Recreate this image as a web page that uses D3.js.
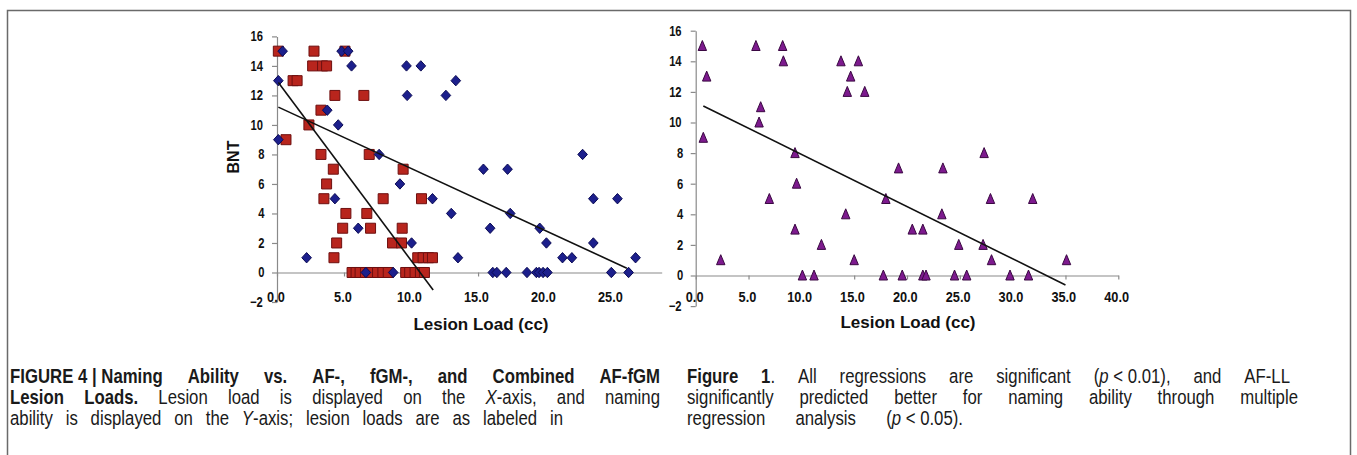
<!DOCTYPE html>
<html><head><meta charset="utf-8">
<script src="https://cdn.jsdelivr.net/npm/d3@7"></script>
<style>body{margin:0;background:#fff} svg{display:block}</style>
</head><body>
<svg id="c" width="1357" height="455"></svg>
<script>
// ---------- DATA ----------
// Left panel: fGM lesion load (red squares)
const fgmX = [0.1,2.76,5.07, 2.66,3.4,3.7, 1.2,1.5, 4.32,6.48, 3.28, 2.38, 0.67, 3.28,6.88, 4.2,9.41, 3.7,
  3.5,7.92,10.78, 5.14,6.7, 4.9,6.98,9.34, 4.45,8.62,9.29, 4.25,10.5,10.9,11.3,11.6,
  5.6,5.9,6.2,6.6,7.0,7.5,7.9,8.3,9.6,9.9,10.3,10.7,11.0];
const fgmY = [15,15,15, 14,14,14, 13,13, 12,12, 11, 10, 9, 8,8, 7,7, 6,
  5,5,5, 4,4, 3,3,3, 2,2,2, 1,1,1,1,1,
  0,0,0,0,0,0,0,0,0,0,0,0,0];
// Left panel: AF lesion load (blue diamonds)
const afX = [0.42,4.82,5.31, 5.56,9.66,10.73, 0.1,13.34, 9.71,12.6, 3.75, 4.57, 0.1, 7.62,22.8, 15.4,17.2, 9.17,
  4.32,11.6,23.6,25.4, 13.0,17.4, 6.06,15.9,19.6, 10.04,20.1,23.6, 2.21,13.5,21.3,22.0,26.75,
  6.63,8.67,16.1,16.4,17.1,18.65,19.35,19.55,19.85,20.17,24.94,26.23];
const afY = [15,15,15, 14,14,14, 13,13, 12,12, 11, 10, 9, 8,8, 7,7, 6,
  5,5,5,5, 4,4, 3,3,3, 2,2,2, 1,1,1,1,1,
  0,0,0,0,0,0,0,0,0,0,0,0];
// Right panel: combined AF-fGM lesion load (purple triangles)
const combX = [0.63,5.7,8.23, 8.3,13.75,15.4, 1.04,14.67, 14.35,16.0, 6.15, 6.0, 0.72, 9.4,27.3, 19.2,23.4, 9.55,
  6.97,18.0,27.9,31.9, 14.2,23.3, 9.4,20.5,21.5, 11.9,24.9,27.2, 2.37,15.0,28.0,35.1,
  10.1,11.2,17.76,19.55,21.5,21.8,24.5,25.65,29.75,31.5];
const combY = [15,15,15, 14,14,14, 13,13, 12,12, 11, 10, 9, 8,8, 7,7, 6,
  5,5,5,5, 4,4, 3,3,3, 2,2,2, 1,1,1,1,
  0,0,0,0,0,0,0,0,0,0];
// Regression lines: [intercept, slope, xStart, xEnd]
const fgmFit  = [13.0, -1.218, 0.1, 11.65];
const afFit   = [11.25, -0.42, 0.1, 26.1];
const combFit = [11.33, -0.3413, 0.72, 35.0];
// Tick labels
const yTicks = [-2,0,2,4,6,8,10,12,14,16];
const xTicksLeft = [0,5,10,15,20,25];
const xTicksRight = [0,5,10,15,20,25,30,35,40];
const yTitle = "BNT";
const xTitle = "Lesion Load (cc)";
const captionLeft = [
  "**FIGURE\u00a04\u00a0|\u00a0Naming Ability vs. AF-, fGM-, and Combined AF-fGM**",
  "**Lesion Loads.** Lesion load is displayed on the _X_-axis, and naming",
  "ability is displayed on the _Y_-axis; lesion loads are as labeled in"
];
const captionRight = [
  "**Figure 1**. All regressions are significant (_p_\u00a0<\u00a00.01), and AF-LL",
  "significantly predicted better for naming ability through multiple",
  "regression analysis (_p_\u00a0<\u00a00.05)."
];

// ---------- DRAW ----------
const svg = d3.select("#c");
const FONT = "'Liberation Sans',Arial,sans-serif";
const AXIS = "#8a8a8a";

svg.append("rect").attr("x",7.5).attr("y",10.5).attr("width",1343).attr("height",470)
  .attr("fill","none").attr("stroke","#6a6a6a").attr("stroke-width",1.5);

function narrow(sel, sx){
  sel.each(function(){
    const t = d3.select(this);
    const bb = this.getBBox();
    const ax = t.attr("text-anchor")==="end" ? bb.x+bb.width : (t.attr("text-anchor")==="middle" ? bb.x+bb.width/2 : bb.x);
    t.attr("transform",`translate(${ax},0) scale(${sx},1) translate(${-ax},0)`);
  });
}

function panel(cfg){
  const x = d3.scaleLinear().domain(cfg.xDomain).range(cfg.xRange);
  const y = d3.scaleLinear().domain([-2,16]).range(cfg.yRange);
  const g = svg.append("g");
  const ya = g.append("g").attr("transform",`translate(${cfg.xRange[0]},0)`)
    .call(d3.axisLeft(y).tickValues(yTicks).tickSize(5).tickSizeOuter(0).tickPadding(6).tickFormat(d3.format("d")));
  const xa = g.append("g").attr("transform",`translate(0,${y(0)})`)
    .call(d3.axisBottom(x).tickValues(cfg.xTicks).tickSize(4).tickSizeOuter(0).tickPadding(cfg.xPad).tickFormat(d3.format(".1f")));
  [ya,xa].forEach(a=>{
    a.select(".domain").attr("stroke",AXIS).attr("stroke-width",1.2);
    a.selectAll(".tick line").attr("stroke",AXIS).attr("stroke-width",1.2);
    a.selectAll(".tick text").attr("fill","#111").attr("font-family",FONT).attr("font-weight","bold");
  });
  ya.selectAll(".tick text").attr("font-size",14);
  xa.selectAll(".tick text").attr("font-size",15);
  narrow(ya.selectAll(".tick text"),0.8);
  narrow(xa.selectAll(".tick text"),0.85);
  cfg.series.forEach(s=>{
    g.append("g").selectAll("path").data(d3.range(s.xs.length)).join("path")
      .attr("transform",i=>`translate(${x(s.xs[i])},${y(s.ys[i])})`)
      .attr("d",s.shape).attr("fill",s.fill).attr("stroke",s.stroke).attr("stroke-width",1);
  });
  cfg.fits.forEach(f=>{
    const [b,m,x0,x1] = f;
    g.append("line").attr("x1",x(x0)).attr("y1",y(b+m*x0)).attr("x2",x(x1)).attr("y2",y(b+m*x1))
      .attr("stroke","#111").attr("stroke-width",1.6);
  });
  g.append("text").attr("x",cfg.xTitleX).attr("y",cfg.xTitleY).attr("text-anchor","middle")
    .attr("font-family",FONT).attr("font-weight","bold").attr("font-size",17)
    .attr("fill","#111").text(xTitle);
  if(cfg.yTitle){
    g.append("text").attr("transform",`translate(${cfg.yTitleX},${cfg.yTitleY}) rotate(-90)`).attr("text-anchor","middle")
      .attr("font-family",FONT).attr("font-weight","bold").attr("font-size",16)
      .attr("fill","#111").text(cfg.yTitle);
  }
}

const square = "M-5,-5H5V5H-5Z";
const diamond = "M0,-5.2L4.8,0L0,5.2L-4.8,0Z";
const triangle = "M0,-5.5L4.2,4.5L-4.2,4.5Z";

panel({xDomain:[0,28.7], xRange:[277,661.7], yRange:[302,36.4], xTicks:xTicksLeft, xPad:15,
  series:[{xs:fgmX,ys:fgmY,shape:square,fill:"#b8251d",stroke:"#6e1010"},
          {xs:afX,ys:afY,shape:diamond,fill:"#1c1f8c",stroke:"#0b0b55"}],
  fits:[fgmFit,afFit], xTitleX:481, xTitleY:330, yTitle:yTitle, yTitleX:239, yTitleY:157});

panel({xDomain:[0,40], xRange:[695.7,1118.3], yRange:[306.1,30.7], xTicks:xTicksRight, xPad:12,
  series:[{xs:combX,ys:combY,shape:triangle,fill:"#7d1a8e",stroke:"#3a0842"}],
  fits:[combFit], xTitleX:908, xTitleY:328});

// ---------- CAPTIONS (justified, condensed) ----------
function parseLine(s){
  const words=[]; let cur=[]; let bold=false, ital=false; let buf='';
  const flush=()=>{ if(buf){cur.push({t:buf,b:bold,i:ital}); buf='';} };
  for(let k=0;k<s.length;k++){
    if(s.startsWith('**',k)){flush(); bold=!bold; k++; continue;}
    const c=s[k];
    if(c==='_'){flush(); ital=!ital; continue;}
    if(c===' '){flush(); if(cur.length){words.push(cur); cur=[];} continue;}
    buf+=c;
  }
  flush(); if(cur.length) words.push(cur);
  return words;
}
const SX = 0.86;
function caption(lines, x0, rights, ys){
  const cg = svg.append("g").attr("transform",`scale(${SX},1)`);
  lines.forEach((ln,li)=>{
    const words = parseLine(ln);
    const t = cg.append("text").attr("y",ys[li]).attr("font-family",FONT).attr("font-size",19.5).attr("fill","#1a1a1a");
    const firsts=[], widths=[]; let total=0;
    words.forEach(w=>{
      let ww=0;
      w.forEach((r,ri)=>{
        const sp = t.append("tspan").text(r.t)
          .attr("font-weight",r.b?"bold":"normal").attr("font-style",r.i?"italic":"normal");
        if(ri===0) firsts.push(sp);
        ww += sp.node().getComputedTextLength();
      });
      widths.push(ww); total+=ww;
    });
    const L0 = x0/SX, L1 = rights[li]/SX;
    const gap = (L1-L0-total)/Math.max(1,words.length-1);
    let cx = L0;
    words.forEach((w,wi)=>{ firsts[wi].attr("x",cx); cx += widths[wi] + gap; });
  });
}
caption(captionLeft, 10, [660,660,563], [383,404,425]);
caption(captionRight, 687, [1290,1298,963], [383,404,425]);
</script>
</body></html>
